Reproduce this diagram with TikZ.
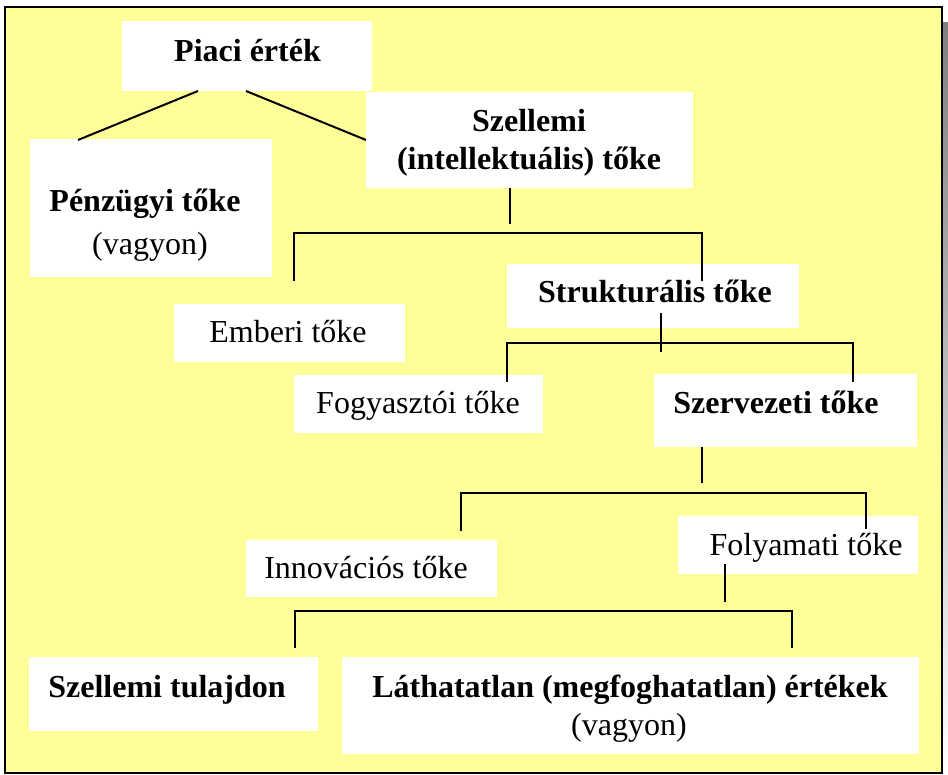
\documentclass[tikz,border=0pt]{standalone}
\usepackage{fontspec}
\setmainfont{Liberation Serif}
\definecolor{paper}{RGB}{255,255,153}
\definecolor{shade}{RGB}{128,128,128}
\begin{document}
\begin{tikzpicture}[x=1pt,y=-1pt,
  panel/.style={fill=white, draw=none, inner sep=0pt, outer sep=0pt},
  link/.style={line width=2pt, black},
  lbl/.style={anchor=base, inner sep=0pt, font=\fontsize{32}{38}\selectfont},
  lblb/.style={anchor=base, inner sep=0pt, font=\fontsize{32}{38}\selectfont\bfseries}]
\useasboundingbox (0,0) rectangle (948,775);

% frame with drop shadow
\fill[shade] (936,23) rectangle (948,775);
\draw[fill=paper, line width=2pt] (5,7) rectangle (942,773);

% white panels
\node[panel, minimum width=250pt, minimum height=70pt] (piaci) at (247,56) {};
\node[panel, minimum width=242pt, minimum height=138pt] (penz) at (151,208) {};
\node[panel, minimum width=327pt, minimum height=96pt] (szell) at (529.5,140) {};
\node[panel, minimum width=231pt, minimum height=58pt] (ember) at (289.5,333) {};
\node[panel, minimum width=292pt, minimum height=64pt] (strukt) at (653,296) {};
\node[panel, minimum width=249pt, minimum height=58pt] (fogy) at (418.5,404) {};
\node[panel, minimum width=263pt, minimum height=73pt] (szerv) at (785.5,410.5) {};
\node[panel, minimum width=251pt, minimum height=57pt] (innov) at (371.5,568.5) {};
\node[panel, minimum width=240pt, minimum height=58pt] (folyam) at (798,545) {};
\node[panel, minimum width=289pt, minimum height=74pt] (sztul) at (173.5,694) {};
\node[panel, minimum width=577pt, minimum height=97pt] (lath) at (630.5,705.5) {};

% connector end points
\coordinate (p1) at (198,91);   \coordinate (p2) at (78,140);
\coordinate (p3) at (246,91);   \coordinate (p4) at (366,140);
\coordinate (s1) at (510,188);  \coordinate (s2) at (510,224);
\coordinate (b1l) at (294,281); \coordinate (b1r) at (702,281);
\coordinate (t1) at (661,313);  \coordinate (t2) at (661,352);
\coordinate (b2l) at (507,382); \coordinate (b2r) at (853,382);
\coordinate (v1) at (702,447);  \coordinate (v2) at (702,483);
\coordinate (b3l) at (461,531); \coordinate (b3r) at (866,529);
\coordinate (f1) at (725,564);  \coordinate (f2) at (725,602);
\coordinate (b4l) at (295,648); \coordinate (b4r) at (792,648);

% connectors
\draw[link] (p1) -- (p2);
\draw[link] (p3) -- (p4);
\draw[link] (s1) -- (s2);
\draw[link] (b1l) |- (b1r |- 0,233) -- (b1r);
\draw[link] (t1) -- (t2);
\draw[link] (b2l) |- (b2r |- 0,343) -- (b2r);
\draw[link] (v1) -- (v2);
\draw[link] (b3l) |- (b3r |- 0,493) -- (b3r);
\draw[link] (f1) -- (f2);
\draw[link] (b4l) |- (b4r |- 0,611) -- (b4r);

% labels
\node[lblb] (piacit) at (247.5,62) {Piaci érték};
\node[lblb] (penzt) at (145,212) {Pénzügyi tőke};
\node[lbl] (penzv) at (150,255) {(vagyon)};
\node[lblb] (szellt1) at (529,132) {Szellemi};
\node[lblb] (szellt2) at (529,170) {(intellektuális) tőke};
\node[lbl] (embert) at (288,343) {Emberi tőke};
\node[lblb] (struktt) at (655,303) {Strukturális tőke};
\node[lbl] (fogyt) at (418,414) {Fogyasztói tőke};
\node[lblb] (szervt) at (776,414) {Szervezeti tőke};
\node[lbl] (innovt) at (366,578) {Innovációs tőke};
\node[lbl] (folyamt) at (806,555) {Folyamati tőke};
\node[lblb] (sztult) at (167,697) {Szellemi tulajdon};
\node[lblb] (latht) at (630,697) {Láthatatlan (megfoghatatlan) értékek};
\node[lbl] (lathv) at (629,735) {(vagyon)};
\end{tikzpicture}
\end{document}
